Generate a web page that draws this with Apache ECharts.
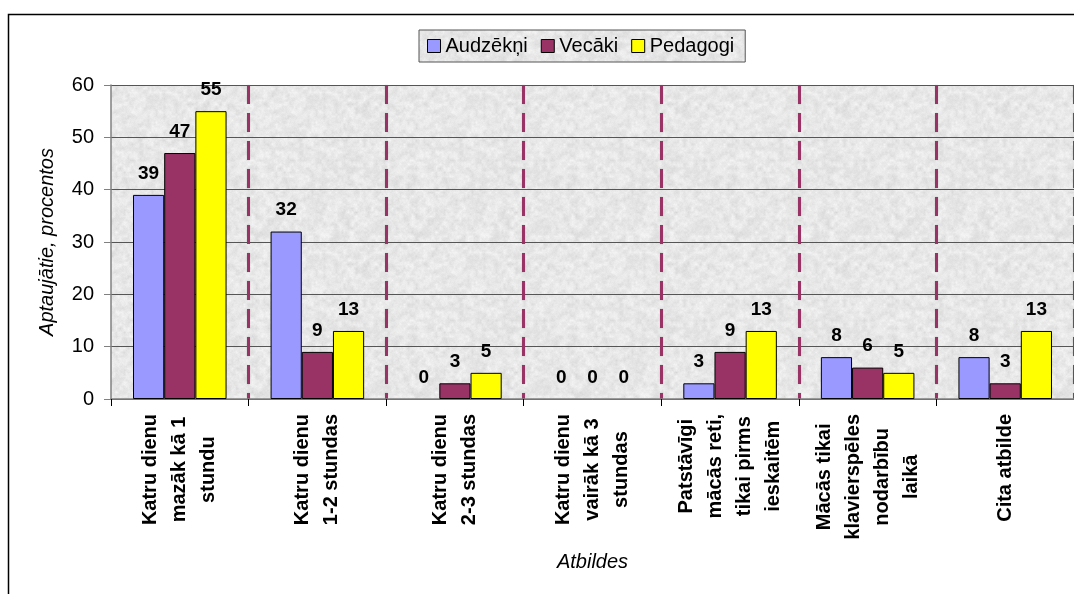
<!DOCTYPE html>
<html>
<head>
<meta charset="utf-8">
<script src="https://cdn.jsdelivr.net/npm/echarts@6/dist/echarts.min.js"></script>
<style>
  html, body { margin: 0; padding: 0; background: #fff; }
  #chart { width: 1074px; height: 594px; }
</style>
</head>
<body>
<div id="chart"></div>
<script>
// Survey answers: how pupils practise outside lessons (percent of respondents)
const categories = [
  ['Katru dienu', 'mazāk kā 1', 'stundu'],
  ['Katru dienu', '1-2 stundas'],
  ['Katru dienu', '2-3 stundas'],
  ['Katru dienu', 'vairāk kā 3', 'stundas'],
  ['Patstāvīgi', 'mācās reti,', 'tikai pirms', 'ieskaitēm'],
  ['Mācās tikai', 'klavierspēles', 'nodarbību', 'laikā'],
  ['Cita atbilde']
];
const seriesNames = ['Audzēkņi', 'Vecāki', 'Pedagogi'];
const audzekni = [39, 32, 0, 0, 3, 8, 8];
const vecaki = [47, 9, 3, 0, 9, 6, 3];
const pedagogi = [55, 13, 5, 0, 13, 5, 13];
const seriesColors = ['#9999FF', '#993366', '#FFFF00'];

// Granite-like grey fill built from a deterministic hash noise
function makeGranite() {
  const size = 160;
  const c = document.createElement('canvas');
  c.width = size; c.height = size;
  const ctx = c.getContext('2d');
  const img = ctx.createImageData(size, size);
  function hash(x, y) {
    let h = (x * 374761393 + y * 668265263) ^ 0x5bd1e995;
    h = (h ^ (h >>> 13)) * 1274126177;
    h = h ^ (h >>> 16);
    return ((h >>> 0) % 1000) / 1000;
  }
  function smooth(x, y, s) {
    const gx = Math.floor(x / s), gy = Math.floor(y / s);
    const fx = x / s - gx, fy = y / s - gy;
    const n = size / s;
    const a = hash(gx % n, gy % n), b = hash((gx + 1) % n, gy % n);
    const cc = hash(gx % n, (gy + 1) % n), d = hash((gx + 1) % n, (gy + 1) % n);
    const top = a + (b - a) * fx, bot = cc + (d - cc) * fx;
    return top + (bot - top) * fy;
  }
  for (let y = 0; y < size; y++) {
    for (let x = 0; x < size; x++) {
      const v = 0.55 * smooth(x, y, 4) + 0.3 * smooth(x, y, 2) + 0.15 * hash(x + 7, y + 3);
      const g = Math.round(248 - v * 34);
      const i = (y * size + x) * 4;
      img.data[i] = g; img.data[i + 1] = g; img.data[i + 2] = g; img.data[i + 3] = 255;
    }
  }
  ctx.putImageData(img, 0, 0);
  return c;
}
const granite = { image: makeGranite(), repeat: 'repeat' };

const chart = echarts.init(document.getElementById('chart'), null, { renderer: 'canvas' });

const font = 'Arial, "Liberation Sans", Helvetica, sans-serif';

// zero-height bars get no outline so the axis line stays clean
function barData(values) {
  return values.map(v => v === 0 ? { value: v, itemStyle: { borderWidth: 0 } } : v);
}

function barSeries(name, data, color) {
  return {
    name: name,
    type: 'bar',
    data: barData(data),
    barGap: '0%',
    barCategoryGap: '32%',
    itemStyle: { color: color, borderColor: '#000', borderWidth: 1 },
    label: {
      show: true,
      position: 'top',
      distance: 12,
      color: '#000',
      fontFamily: font,
      fontWeight: 'bold',
      fontSize: 19
    }
  };
}

chart.setOption({
  animation: false,
  backgroundColor: '#fff',
  textStyle: { fontFamily: font },
  graphic: [{
    type: 'rect',
    shape: { x: 8.5, y: 14.5, width: 1100, height: 620 },
    style: { fill: 'none', stroke: '#000', lineWidth: 1.5 },
    silent: true,
    z: -10
  }],
  legend: {
    data: seriesNames,
    left: 419,
    top: 30,
    padding: [6, 11, 6, 8],
    itemGap: 13,
    itemWidth: 13,
    itemHeight: 13,
    icon: 'rect',
    backgroundColor: granite,
    borderColor: '#555',
    borderWidth: 1,
    borderRadius: 0,
    itemStyle: { borderColor: '#000', borderWidth: 1 },
    textStyle: { fontFamily: font, fontSize: 20, color: '#000' }
  },
  grid: {
    left: 111,
    right: -1,
    top: 85,
    bottom: 195,
    show: true,
    backgroundColor: granite,
    borderWidth: 0
  },
  xAxis: {
    type: 'category',
    data: categories.map(c => c.join('\n')),
    boundaryGap: true,
    name: 'Atbildes',
    nameLocation: 'middle',
    nameGap: 153,
    nameTextStyle: { fontFamily: font, fontSize: 20, fontStyle: 'italic', color: '#000' },
    axisLine: { show: true, lineStyle: { color: '#808080', width: 1.5 } },
    axisTick: { show: true, length: 7, lineStyle: { color: '#000' } },
    axisLabel: {
      rotate: 90,
      margin: 15,
      interval: 0,
      color: '#000',
      fontFamily: font,
      fontWeight: 'bold',
      fontSize: 20,
      lineHeight: 29,
      formatter: v => '{c|' + v + '}',
      rich: {
        c: { align: 'center', fontFamily: font, fontWeight: 'bold', fontSize: 20, lineHeight: 29, color: '#000' }
      }
    },
    splitLine: {
      show: true,
      interval: (i) => i > 0,
      lineStyle: { color: '#993366', width: 3, type: [19, 9], shadowColor: 'rgba(0,0,0,0.35)', shadowBlur: 1 }
    }
  },
  yAxis: {
    type: 'value',
    min: 0,
    max: 60,
    interval: 10,
    name: 'Aptaujātie, procentos',
    nameLocation: 'middle',
    nameGap: 54,
    nameRotate: 90,
    nameTextStyle: { fontFamily: font, fontSize: 20, fontStyle: 'italic', color: '#000' },
    axisLine: { show: true, lineStyle: { color: '#808080', width: 1.5 } },
    axisTick: { show: true, length: 7, lineStyle: { color: '#808080' } },
    axisLabel: { color: '#000', fontFamily: font, fontSize: 20, margin: 17 },
    splitLine: { show: true, lineStyle: { color: '#555', width: 1 } }
  },
  series: [
    barSeries(seriesNames[0], audzekni, seriesColors[0]),
    barSeries(seriesNames[1], vecaki, seriesColors[1]),
    barSeries(seriesNames[2], pedagogi, seriesColors[2])
  ]
});
</script>
</body>
</html>
